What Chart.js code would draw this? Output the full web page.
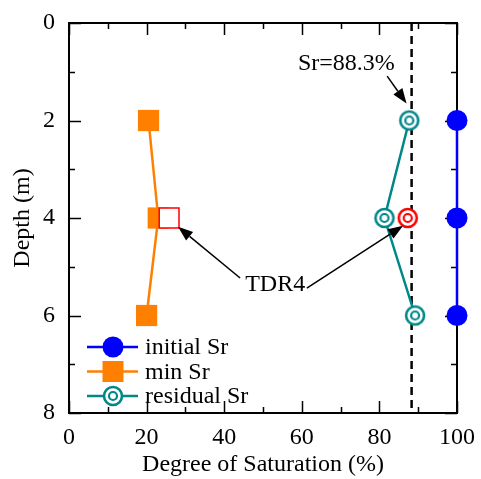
<!DOCTYPE html>
<html><head><meta charset="utf-8">
<script src="https://cdn.jsdelivr.net/npm/chart.js@4"></script>
<style>html,body{margin:0;padding:0;background:#fff}#wrap{width:481px;height:479px}</style>
</head><body><div id="wrap"><canvas id="c" width="481" height="479"></canvas></div>
<script>
// ---- data ----
const depths = [2, 4, 6];
const initialSr = [100, 100, 100];
const minSr = [20.5, 23, 20];
const residualSr = [87.7, 81.3, 89.2];
const tdr4Min = [{x: 25.8, y: 4}];
const tdr4Residual = [{x: 87.3, y: 4}];
const refSr = 88.3;
const refDepths = [0, 8];
const xTicks = [0, 20, 40, 60, 80, 100];
const yTicks = [0, 2, 4, 6, 8];
const legendLabels = ['initial Sr', 'min Sr', 'residual Sr'];

const BLUE = '#0000ff', ORANGE = '#ff8000', TEAL = '#00878a', RED = '#ff0000';
const FONT = '"Liberation Serif", "DejaVu Serif", serif';

function ringMarker(color) {
  const c = document.createElement('canvas');
  c.width = 24; c.height = 24;
  const g = c.getContext('2d');
  g.fillStyle = '#fff';
  g.strokeStyle = color;
  g.lineWidth = 2.6;
  g.beginPath(); g.arc(12, 12, 9, 0, Math.PI * 2); g.fill(); g.stroke();
  g.lineWidth = 2.2;
  g.beginPath(); g.arc(12, 12, 4, 0, Math.PI * 2); g.stroke();
  return c;
}
const tealRing = ringMarker(TEAL);
const redRing = ringMarker(RED);

const pts = (xs) => xs.map((v, i) => ({x: v, y: depths[i]}));

const frameTicks = {
  id: 'frameTicks',
  beforeDatasetsDraw(chart) {
    const {ctx, chartArea: a, scales: {x, y}} = chart;
    ctx.save();
    ctx.strokeStyle = '#000';
    ctx.lineWidth = 1.5;
    for (let v = 0; v <= 100; v += 10) {
      const px = Math.round(x.getPixelForValue(v)) + 0.5;
      const len = (v % 20 === 0) ? 12 : 6;
      ctx.beginPath();
      ctx.moveTo(px, a.bottom); ctx.lineTo(px, a.bottom - len);
      ctx.moveTo(px, a.top); ctx.lineTo(px, a.top + len);
      ctx.stroke();
    }
    for (let v = 0; v <= 8; v += 1) {
      const py = Math.round(y.getPixelForValue(v)) + 0.5;
      const len = (v % 2 === 0) ? 12 : 6;
      ctx.beginPath();
      ctx.moveTo(a.left, py); ctx.lineTo(a.left + len, py);
      ctx.moveTo(a.right, py); ctx.lineTo(a.right - len, py);
      ctx.stroke();
    }
    ctx.lineWidth = 2;
    ctx.strokeRect(a.left, a.top, a.right - a.left, a.bottom - a.top);
    ctx.restore();
  }
};

function arrow(ctx, x0, y0, x1, y1) {
  const ang = Math.atan2(y1 - y0, x1 - x0);
  const L = 15, W = 5.5;
  const bx = x1 - L * Math.cos(ang), by = y1 - L * Math.sin(ang);
  ctx.beginPath(); ctx.moveTo(x0, y0); ctx.lineTo(bx, by); ctx.stroke();
  ctx.beginPath();
  ctx.moveTo(x1, y1);
  ctx.lineTo(bx + W * Math.sin(ang), by - W * Math.cos(ang));
  ctx.lineTo(bx - W * Math.sin(ang), by + W * Math.cos(ang));
  ctx.closePath(); ctx.fill();
}

const annots = {
  id: 'annots',
  afterDraw(chart) {
    const {ctx, scales: {x, y}} = chart;
    const X = v => x.getPixelForValue(v), Y = v => y.getPixelForValue(v);
    ctx.save();
    ctx.fillStyle = '#000'; ctx.strokeStyle = '#000'; ctx.lineWidth = 1.5;
    ctx.font = '24px ' + FONT;
    ctx.textAlign = 'left'; ctx.textBaseline = 'alphabetic';
    ctx.fillText('Sr=88.3%', X(59), Y(0.96));
    arrow(ctx, X(82), Y(1.09), X(87), Y(1.65));
    ctx.fillText('TDR4', X(45.4), Y(5.5));
    arrow(ctx, X(44.1), Y(5.23), X(28.1), Y(4.18));
    arrow(ctx, X(61.3), Y(5.44), X(86.1), Y(4.16));

    // legend
    const rows = [
      {c: BLUE, m: 'circle'},
      {c: ORANGE, m: 'rect'},
      {c: TEAL, m: 'ring'}
    ];
    rows.forEach((r, i) => {
      const yy = 347 + i * 24.5;
      ctx.strokeStyle = r.c; ctx.lineWidth = 2.5;
      ctx.beginPath(); ctx.moveTo(87, yy); ctx.lineTo(138, yy); ctx.stroke();
      if (r.m === 'circle') {
        ctx.fillStyle = r.c; ctx.beginPath(); ctx.arc(113, yy, 10.5, 0, Math.PI * 2); ctx.fill();
      } else if (r.m === 'rect') {
        ctx.fillStyle = r.c; ctx.fillRect(102.5, yy - 10.5, 21, 21);
      } else {
        ctx.drawImage(tealRing, 113 - 12, yy - 12);
      }
      ctx.fillStyle = '#000';
      ctx.textBaseline = 'middle';
      ctx.fillText(legendLabels[i], 145, yy + 1);
    });
    ctx.restore();
  }
};

new Chart(document.getElementById('c'), {
  type: 'scatter',
  data: {
    datasets: [
      {label: legendLabels[0], data: pts(initialSr), showLine: true, borderColor: BLUE, backgroundColor: BLUE,
       borderWidth: 2.5, pointRadius: 10.5, pointBorderWidth: 0, pointStyle: 'circle', order: 1, clip: false},
      {label: legendLabels[1], data: pts(minSr), showLine: true, borderColor: ORANGE, backgroundColor: ORANGE,
       borderWidth: 2.5, pointRadius: 15, pointBorderWidth: 0, pointStyle: 'rect', order: 2, clip: false},
      {label: legendLabels[2], data: pts(residualSr), showLine: true, borderColor: TEAL, backgroundColor: TEAL,
       borderWidth: 2.5, pointStyle: tealRing, pointRadius: 10, order: 1, clip: false},
      {label: 'TDR4 min', data: tdr4Min, showLine: false, borderColor: RED, backgroundColor: '#fff',
       pointRadius: 14, pointBorderWidth: 1.5, pointStyle: 'rect', order: 0, clip: false},
      {label: 'TDR4 residual', data: tdr4Residual, showLine: false, pointStyle: redRing, pointRadius: 10, order: 0, clip: false},
      {label: 'Sr ref', data: refDepths.map(d => ({x: refSr, y: d})), showLine: true, borderColor: '#000',
       borderWidth: 2.5, borderDash: [8, 5], pointRadius: 0, order: 10, clip: false}
    ]
  },
  options: {
    responsive: false, animation: false, devicePixelRatio: 1,
    layout: {padding: {top: 23, right: 24, left: 0, bottom: 0}},
    plugins: {legend: {display: false}, tooltip: {enabled: false}},
    scales: {
      x: {type: 'linear', min: 0, max: 100,
          afterFit: s => { s.height = 66; },
          afterBuildTicks: s => { s.ticks = xTicks.map(v => ({value: v})); },
          grid: {display: false}, border: {display: false},
          ticks: {color: '#000', font: {family: FONT, size: 24}, padding: 2, maxRotation: 0},
          title: {display: true, text: 'Degree of Saturation (%)', color: '#000',
                  font: {family: FONT, size: 24}, padding: {top: 0, bottom: 0}}},
      y: {type: 'linear', min: 0, max: 8, reverse: true,
          afterFit: s => { s.width = 69; },
          afterBuildTicks: s => { s.ticks = yTicks.map(v => ({value: v})); },
          grid: {display: false}, border: {display: false},
          ticks: {color: '#000', font: {family: FONT, size: 24}, padding: 6},
          title: {display: true, text: 'Depth (m)', color: '#000',
                  font: {family: FONT, size: 24}, padding: {top: 8, bottom: 0}}}
    }
  },
  plugins: [frameTicks, annots]
});
</script></body></html>
